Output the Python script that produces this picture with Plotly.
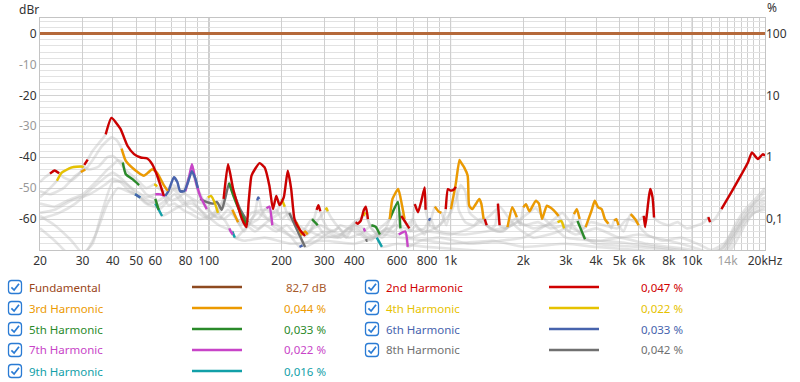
import plotly.graph_objects as go

# ---------------- data ----------------
FUND_F = [20, 20000]
FUND_DB = [0, 0]

H2_PTS = [(20,-48),(21,-46.5),(22,-45.3),(23,-44.3),(24,-45.2),(25,-46.5),(27,-47.5),(29,-45.5),(30.5,-42.5),(31.5,-40.8),(33,-38),(35,-35.5),(37.4,-32.6),(39.5,-27.3),(43,-30.8),(46,-36.3),(49,-39),(52.2,-40.1),(55.6,-40.4),(58.3,-42.3),(61.1,-46),(65.1,-52.5),(68,-55.5),(72,-55),(78,-57),(85,-58.5),(92,-60),(100,-59),(108,-57),(115,-53.5),(120,-42.3),(126,-50.3),(137,-60),(143,-62.6),(146,-54.5),(150,-46),(155,-43.9),(162,-41.9),(170,-43.3),(178,-49.3),(184,-56.8),(190,-52.5),(196,-55.5),(204,-53),(212,-44.4),(219,-50.3),(226,-60),(238,-63.5),(250,-65.5),(265,-63),(279,-57),(284,-55.5),(289,-57.5),(295,-60),(310,-63),(330,-64),(350,-62),(380,-63),(395,-62),(405,-61),(413,-61.5),(425,-60.5),(438,-57),(446,-56),(455,-60),(470,-63),(500,-65),(540,-63),(580,-64),(610,-62),(625,-59),(650,-61),(675,-63),(695,-61),(711,-55.2),(733,-57.8),(757,-54.1),(781,-49.8),(788,-57),(820,-62),(870,-63),(920,-61),(955,-56.8),(975,-50.3),(1000,-50.8),(1030,-50.5),(1052,-49.6),(1080,-57),(1150,-61),(1250,-62),(1320,-60),(1385,-60),(1410,-62),(1470,-63),(1530,-62),(1570,-55),(1595,-62),(1700,-63),(1850,-60),(2000,-62),(2300,-61),(2600,-63),(3000,-62),(3400,-64),(3800,-61),(4300,-62),(4900,-63),(5400,-60),(5900,-61),(6300,-59),(6380,-62.6),(6500,-58),(6600,-53.5),(6700,-50.3),(6850,-53),(6950,-59.5),(7300,-61),(8000,-62),(8700,-61),(9500,-63),(10500,-62),(11200,-61),(11650,-59.4),(11850,-61),(12400,-60),(13200,-56.8),(14500,-51.4),(16000,-45.5),(17000,-41.7),(17650,-38.5),(18700,-40.6),(19600,-39),(20000,-39.5)]
H2_ON = [(21.5,24.5),(30,32),(37,66),(113,255),(278,290),(403,456),(620,680),(705,790),(940,1060),(1380,1420),(1560,1600),(6250,7000),(11600,11900),(13000,20000)]

H3_PTS = [(20,-51),(22,-52),(25,-50),(28,-46),(29.5,-44.8),(30.8,-44),(33,-41),(36,-36.5),(39.5,-33.6),(41.5,-34.5),(43.5,-37.2),(45.3,-41.2),(49,-43.9),(53.8,-46),(56,-45),(58.3,-43.9),(61,-45),(65,-49),(67.6,-50.9),(70,-50),(75,-52),(82,-56),(90,-58),(100,-60),(110,-58),(118,-55),(125,-57),(132,-61),(140,-64),(150,-60),(160,-58),(175,-60),(190,-57),(200,-60),(215,-58),(230,-61),(236,-63),(242,-65),(250,-64),(256,-65),(270,-63),(290,-62),(320,-64),(345,-63),(370,-66),(400,-62),(430,-64),(470,-67),(510,-63),(545,-61),(560,-60),(575,-53.5),(607,-50.3),(630,-55.7),(645,-60),(680,-64),(720,-62),(780,-65),(830,-60),(861,-56),(890,-57.5),(916,-58),(960,-62),(1003,-56.8),(1050,-48.7),(1088,-40.9),(1100,-41.5),(1138,-43.3),(1177,-46),(1194,-55.7),(1230,-56.8),(1270,-55.2),(1315,-53.5),(1340,-55),(1370,-60),(1450,-63),(1550,-64),(1650,-64),(1720,-62.6),(1800,-56.2),(1880,-59.4),(1940,-62),(2000,-56.2),(2050,-55.2),(2120,-57.5),(2250,-54.1),(2320,-55),(2390,-60),(2500,-55.7),(2580,-56.2),(2680,-57.3),(2800,-59),(2950,-62),(3100,-64),(3240,-58.4),(3330,-56.8),(3420,-60),(3520,-63),(3620,-62.6),(3830,-57.3),(3950,-54.1),(4080,-56.2),(4220,-56.8),(4350,-60),(4500,-61.5),(4620,-63),(4750,-60.5),(4850,-60),(4950,-62),(5200,-64),(5560,-58.4),(5800,-60),(6000,-62),(6500,-65),(7500,-67),(9000,-66),(10500,-68),(12000,-70),(13500,-68),(15000,-63),(16500,-58),(18000,-55),(20000,-51)]
H3_ON = [(29.3,31),(43,68),(124,133),(228,257),(555,645),(855,920),(1000,1370),(1700,1890),(1990,2820),(3220,3420),(3600,4500),(4700,4950),(5500,6000)]

H4_PTS = [(20,-53),(22,-50),(23.5,-47.6),(24.6,-45),(27.1,-43.3),(29.7,-43),(30.3,-43.2),(32,-44),(35,-43),(38,-40),(40,-39.6),(42,-41),(45,-44),(50,-47),(55,-50),(59.3,-48.8),(60.2,-49),(61,-49.5),(63,-50.5),(66,-51),(70,-49),(75,-50),(80,-52),(88,-54),(95,-55),(99,-53),(102,-52.5),(106,-55),(109,-58),(115,-60),(125,-58),(135,-62),(150,-58),(170,-57),(190,-58),(200,-53.5),(206,-56),(215,-60),(235,-62),(260,-64),(285,-60),(304,-57),(307,-56.5),(310,-57.5),(330,-61),(360,-64),(400,-61),(437,-59),(441,-58),(445,-58.5),(470,-63),(520,-66),(580,-62),(620,-58),(660,-62),(700,-60),(730,-63),(800,-64),(900,-62),(1000,-58),(1060,-53),(1100,-49),(1150,-51),(1200,-58),(1400,-62),(1600,-64),(1900,-61),(2200,-63),(2500,-62),(2770,-61),(2870,-60.6),(2950,-63),(3300,-65),(4000,-63),(5000,-66),(6000,-65),(8000,-67),(10000,-69),(12000,-71),(13500,-69),(15000,-62),(16500,-57),(18000,-54),(20000,-50)]
H4_ON = [(23.3,30.5),(59,61.2),(99,109),(199,207),(303,311),(436,446),(2760,2960)]

H5_PTS = [(20,-55),(23,-56),(26,-54),(30,-52),(34,-48),(38,-44),(40,-42.5),(42,-41),(44,-41.7),(45.3,-45.5),(48.3,-47.1),(51.4,-49),(55,-52),(58,-53),(60,-53.5),(62,-57),(66,-55),(72,-52),(78,-55),(85,-54),(92,-57),(100,-60),(110,-57),(116,-53),(121,-48.2),(127,-53),(135,-58),(144,-62),(155,-64),(170,-62),(190,-64),(210,-62),(230,-65),(250,-63),(267,-60),(282,-62),(300,-65),(340,-66),(380,-63),(420,-65),(470,-62),(490,-62.5),(510,-65),(540,-63),(560,-60),(605,-54.5),(620,-63),(680,-66),(800,-64),(1000,-65),(1200,-63),(1450,-59),(1600,-56),(1750,-60),(1900,-63),(2200,-66),(2800,-64),(3350,-60.6),(3450,-63),(3600,-66.5),(4200,-67),(5000,-66),(6500,-68),(8000,-69),(10000,-70),(12000,-72),(13500,-70),(15000,-64),(16500,-59),(18000,-55),(20000,-53)]
H5_ON = [(43.5,52),(60,62.5),(118,145),(265,285),(468,512),(555,625),(3330,3620)]

H6_PTS = [(20,-58),(23,-57),(27,-54),(32,-52),(37,-49),(40,-47),(43,-48),(47,-51),(49.5,-52),(52,-53),(56,-55),(62,-54),(66,-52.5),(68,-51),(71.6,-46.5),(74,-48),(76,-51),(79,-51),(82,-48),(85,-44.5),(88,-47),(90,-50),(95,-54),(100,-57),(110,-60),(120,-57),(130,-60),(145,-62),(155,-58),(158.5,-54),(160,-53),(161.5,-53.5),(165,-57),(175,-60),(200,-63),(220,-66),(237,-69),(240,-68.8),(244,-68.5),(260,-67),(300,-64),(350,-66),(400,-63),(450,-66),(520,-64),(600,-62),(700,-64),(780,-63),(812,-60.5),(820,-60),(828,-60),(860,-63),(900,-64),(1100,-65),(1400,-64),(1800,-62),(2100,-58),(2250,-56.5),(2450,-60),(2700,-63),(3000,-66),(4000,-67),(5000,-67.5),(7000,-69),(9000,-70),(11000,-71),(13000,-70),(14500,-66),(16000,-61),(18000,-56),(20000,-54)]
H6_ON = [(49,52.5),(66,78),(79,90),(158,162),(236,245),(810,830)]

H7_PTS = [(20,-59),(23,-62),(27,-67),(30,-71),(33,-68),(36,-58),(40,-48),(44,-48),(50,-51),(55,-53),(60,-52),(63,-52),(66,-52.5),(70,-54),(75,-53),(79.9,-51),(83,-46),(85.1,-42.3),(88,-47.5),(92,-52.5),(98,-56.8),(105,-59),(115,-60),(121.5,-63),(123,-64),(125.5,-65),(130,-66),(145,-62),(160,-60),(170,-57),(173,-56.5),(178,-56),(183,-62),(200,-64),(230,-66),(260,-64),(300,-66),(350,-65),(400,-62),(437,-63),(440,-63.5),(443,-64),(480,-66),(540,-64),(610,-65),(650,-64),(665,-69),(750,-67),(900,-66),(1200,-68),(1600,-67),(2000,-66),(2600,-61),(2900,-58),(3200,-62),(3600,-66),(4000,-68),(6000,-69),(8000,-70),(10000,-71),(12000,-73),(13500,-71),(15000,-65),(16500,-60),(18000,-57),(20000,-55)]
H7_ON = [(59,67),(79,99),(121,126),(172,184),(436,444),(600,670)]

H8_PTS = [(20,-60),(24,-58),(28,-55),(33,-50),(38,-46),(40,-45),(45,-48),(50,-52),(55,-55),(60,-56),(66,-54),(72,-50),(76,-51),(78,-51),(82,-47),(85,-45),(88,-48),(92,-53.5),(98,-54.5),(104,-55),(108,-54.5),(113,-57),(117,-53),(121,-48.7),(127,-52),(135,-57),(145,-61),(160,-63),(180,-60),(200,-58),(215,-58),(230,-63),(250,-69),(280,-67),(320,-64),(380,-66),(420,-65),(447,-66.5),(450,-67),(453,-67),(520,-65),(620,-66),(800,-67),(1000,-68),(1500,-67),(2000,-69),(3000,-68),(4000,-69),(6000,-70),(8000,-71),(10000,-72),(12000,-74),(13500,-72),(15000,-66),(16500,-61),(18000,-58),(20000,-56)]
H8_ON = [(76,79),(90,118),(119,146),(212,252),(445,455)]

H9_PTS = [(20,-63),(23,-67),(26,-71),(30,-72),(34,-65),(38,-55),(42,-50),(46,-51),(49.5,-52),(52,-53),(56,-54),(60,-55),(62,-57),(64,-59),(68,-58),(75,-56),(85,-55),(95,-58),(110,-62),(125,-64),(128,-66),(140,-67),(170,-66),(220,-68),(300,-67),(400,-68),(495,-66),(520,-69),(600,-68),(800,-69),(1200,-70),(2000,-71),(4000,-71),(8000,-72),(12000,-75),(13500,-73),(15000,-68),(16500,-62),(18000,-58),(20000,-57)]
H9_ON = [(49,52.5),(59.5,64.5),(124,129),(490,522)]

X_TICKS = [20,30,40,50,60,80,100,200,300,400,600,800,1000,2000,3000,4000,5000,6000,8000,10000,14000,20000]
X_LABELS = ["20","30","40","50","60","80","100","200","300","400","600","800","1k","2k","3k","4k","5k","6k","8k","10k","14k","20kHz"]
X_MINOR = [70,90,500,700,900,7000,9000,11000,12000,13000,15000,16000,17000,18000,19000]
Y_TICKS = [0,-10,-20,-30,-40,-50,-60]
PCT_TICKS = [0.1,1,10,100]
PCT_LABELS = ["0,1","1","10","100"]

LEGEND_COL1 = ["Fundamental","3rd Harmonic","5th Harmonic","7th Harmonic","9th Harmonic"]
LEGEND_VAL1 = ["82,7 dB","0,044 %","0,033 %","0,022 %","0,016 %"]
LEGEND_COL2 = ["2nd Harmonic","4th Harmonic","6th Harmonic","8th Harmonic"]
LEGEND_VAL2 = ["0,047 %","0,022 %","0,033 %","0,042 %"]

# ---------------- styles ----------------
COLORS = {"H2":"#cc0000","H3":"#ec9a00","H4":"#e6c200","H5":"#2a8a2a","H6":"#4763ad",
          "H7":"#c844c8","H8":"#707070","H9":"#12a0a8"}
FUND_COLOR = "#b5693a"
FONT = "Noto Sans"

HARM = [("H9",H9_PTS,H9_ON),("H8",H8_PTS,H8_ON),("H7",H7_PTS,H7_ON),("H6",H6_PTS,H6_ON),
        ("H5",H5_PTS,H5_ON),("H4",H4_PTS,H4_ON),("H3",H3_PTS,H3_ON),("H2",H2_PTS,H2_ON)]

fig = go.Figure()
# grey full curves
for key, pts, on in HARM:
    fig.add_trace(go.Scatter(x=[p[0] for p in pts], y=[p[1] for p in pts], mode="lines",
                             line=dict(color="rgba(190,190,190,0.42)", width=2.6, shape="spline", smoothing=0.5),
                             hoverinfo="skip", showlegend=False))
# coloured segments
for key, pts, on in HARM:
    xs, ys = [], []
    for f, d in pts:
        xs.append(f)
        ys.append(d if any(lo <= f <= hi for lo, hi in on) else None)
    fig.add_trace(go.Scatter(x=xs, y=ys, mode="lines", connectgaps=False,
                             line=dict(color=COLORS[key], width=2.4, shape="spline", smoothing=0.5),
                             hoverinfo="skip", showlegend=False))
# fundamental
fig.add_trace(go.Scatter(x=FUND_F, y=FUND_DB, mode="lines", line=dict(color=FUND_COLOR, width=3),
                         showlegend=False, hoverinfo="skip"))
# invisible trace for right axis
fig.add_trace(go.Scatter(x=FUND_F, y=[100, 100], yaxis="y2", mode="lines", opacity=0,
                         showlegend=False, hoverinfo="skip"))

L, R, T, B = 40, 35, 18, 132
W, H = 800, 382
PW, PH = W - L - R, H - T - B

def xp(px):
    return (px - L) / PW

def yp(py):
    return (H - B - py) / PH

y_text = []
for i, v in enumerate(Y_TICKS):
    c = "#333333" if i % 2 == 0 else "#999999"
    y_text.append(f"<span style='color:{c}'>{v}</span>")
x_text = [f"<span style='color:#a0a0a0'>{t}</span>" if t == "14k" else t for t in X_LABELS]

fig.update_layout(
    width=W, height=H, margin=dict(l=L, r=R, t=T, b=B),
    paper_bgcolor="white", plot_bgcolor="white",
    font=dict(family=FONT, size=12, color="#333333"),
    xaxis=dict(type="log", range=[1.30103, 4.30103], tickvals=X_TICKS, ticktext=x_text,
               showgrid=True, gridcolor="#cfcfcf", gridwidth=1, ticks="", zeroline=False,
               showline=True, linecolor="#c4c4c4", mirror=True,
               minor=dict(tickvals=X_MINOR, showgrid=True, gridcolor="#cfcfcf", ticks=""),
               tickfont=dict(size=12)),
    yaxis=dict(range=[-70, 5], tickvals=Y_TICKS, ticktext=y_text, showgrid=True,
               gridcolor="#d2d2d2", zeroline=False, ticks="", showline=True, linecolor="#c4c4c4",
               mirror=True, minor=dict(dtick=2, showgrid=True, gridcolor="#e2e2e2", ticks=""),
               tickfont=dict(size=12)),
    yaxis2=dict(type="log", overlaying="y", side="right", range=[-1.5, 2.25], tickvals=PCT_TICKS,
                ticktext=PCT_LABELS, showgrid=False, zeroline=False, ticks="", showline=False,
                tickfont=dict(size=12, color="#333333")),
    showlegend=False,
)

for f in [100, 1000, 10000]:
    fig.add_shape(type="line", x0=f, x1=f, xref="x", y0=0, y1=1, yref="paper",
                  line=dict(color="#8a8a8a", width=1), layer="below")

fig.add_annotation(x=xp(29), y=yp(9), xref="paper", yref="paper", text="dBr", showarrow=False,
                   font=dict(size=12, color="#333333"), xanchor="center", yanchor="middle")
fig.add_annotation(x=xp(772), y=yp(8), xref="paper", yref="paper", text="%", showarrow=False,
                   font=dict(size=12, color="#333333"), xanchor="center", yanchor="middle")

# ---------------- legend block ----------------
ROW_Y = [287, 308, 329, 350, 371]
COL1_COLORS = [("#9a4518", "#a85a2c", "#8e4a20"), ("#ec9a00",)*3, ("#2a8a2a",)*3, ("#c844c8",)*3, ("#12a0a8",)*3]
COL2_COLORS = [("#d00000",)*3, ("#e6c200",)*3, ("#4763ad",)*3, ("#707070",)*3]
CB = "#2a7bd4"
LFS = 11.5

def checkbox(cx, cy, s=13.0, r=3.0):
    x0, x1, y0, y1 = cx - s/2, cx + s/2, cy - s/2, cy + s/2
    def P(a, b):
        return f"{xp(a):.5f},{yp(b):.5f}"
    path = (f"M {P(x0+r,y0)} L {P(x1-r,y0)} Q {P(x1,y0)} {P(x1,y0+r)} L {P(x1,y1-r)} "
            f"Q {P(x1,y1)} {P(x1-r,y1)} L {P(x0+r,y1)} Q {P(x0,y1)} {P(x0,y1-r)} "
            f"L {P(x0,y0+r)} Q {P(x0,y0)} {P(x0+r,y0)} Z")
    fig.add_shape(type="path", path=path, xref="paper", yref="paper",
                  line=dict(color=CB, width=1.3), fillcolor="white")
    chk = f"M {P(cx-3.6,cy+0.3)} L {P(cx-0.9,cy+3.0)} L {P(cx+4.0,cy-3.3)}"
    fig.add_shape(type="path", path=chk, xref="paper", yref="paper", line=dict(color=CB, width=1.7))

def legend_row(cbx, tx, lx0, lx1, vx, cy, name, val, cols):
    checkbox(cbx, cy)
    fig.add_annotation(x=xp(tx), y=yp(cy), xref="paper", yref="paper", text=name, showarrow=False,
                       xanchor="left", yanchor="middle", font=dict(size=LFS, color=cols[0]))
    fig.add_shape(type="line", x0=xp(lx0), x1=xp(lx1), y0=yp(cy), y1=yp(cy), xref="paper", yref="paper",
                  line=dict(color=cols[2], width=2.5))
    fig.add_annotation(x=xp(vx), y=yp(cy), xref="paper", yref="paper", text=val, showarrow=False,
                       xanchor="right", yanchor="middle", font=dict(size=LFS, color=cols[1]))

for i, (n, v) in enumerate(zip(LEGEND_COL1, LEGEND_VAL1)):
    legend_row(15, 27, 192, 242, 328, ROW_Y[i], n, v, COL1_COLORS[i])
for i, (n, v) in enumerate(zip(LEGEND_COL2, LEGEND_VAL2)):
    legend_row(372, 384, 549, 599, 685, ROW_Y[i], n, v, COL2_COLORS[i])

fig.write_html("out.html", config={"displayModeBar": False},
               post_script="document.body.style.margin='0';document.body.style.overflow='hidden';")
